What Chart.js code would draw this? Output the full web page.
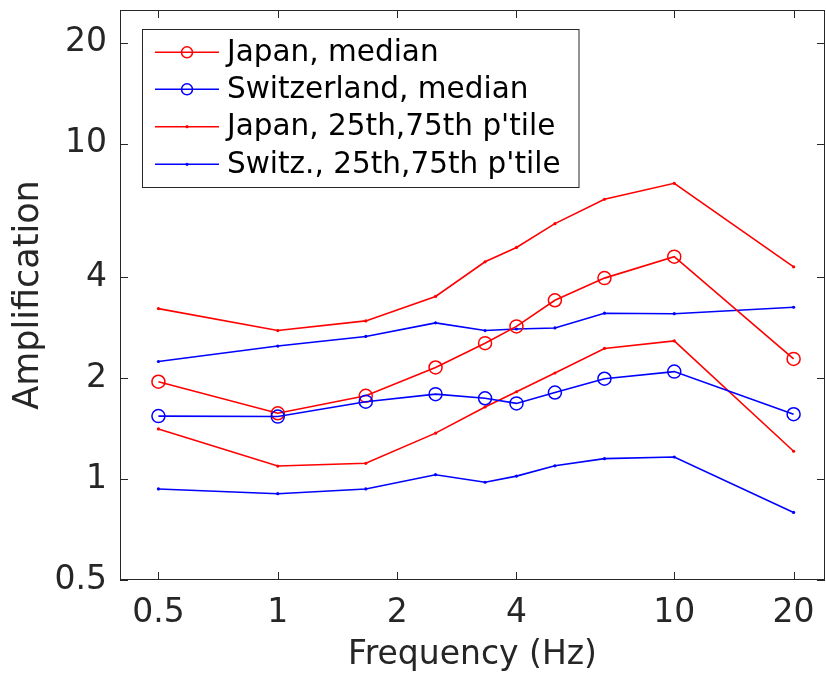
<!DOCTYPE html>
<html>
<head>
<meta charset="utf-8">
<title>Amplification vs frequency</title>
<script src="https://cdn.jsdelivr.net/npm/chart.js@4.4.0/dist/chart.umd.min.js"></script>
<style>
  html, body { margin: 0; padding: 0; background: #fff; }
  #wrap { width: 826px; height: 679px; }
</style>
</head>
<body>
<div id="wrap"><canvas id="ampChart" width="826" height="679"></canvas></div>
<script>
// site amplification: medians and interquartile bounds
const freqs = [0.5, 1, 1.667, 2.5, 3.333, 4, 5, 6.667, 10, 20];
const japanMedian = [1.95, 1.57, 1.77, 2.15, 2.54, 2.85, 3.41, 3.97, 4.60, 2.28];
const switzMedian = [1.54, 1.535, 1.70, 1.79, 1.74, 1.68, 1.81, 1.99, 2.09, 1.56];
const japanP25 = [1.41, 1.093, 1.114, 1.37, 1.64, 1.82, 2.07, 2.45, 2.58, 1.21];
const japanP75 = [3.22, 2.77, 2.96, 3.50, 4.44, 4.90, 5.77, 6.82, 7.61, 4.29];
const switzP25 = [0.934, 0.904, 0.934, 1.03, 0.978, 1.02, 1.095, 1.15, 1.163, 0.795];
const switzP75 = [2.24, 2.49, 2.66, 2.92, 2.77, 2.80, 2.82, 3.12, 3.11, 3.25];

const xTicks = [0.5, 1, 2, 4, 10, 20];
const yTicks = [0.5, 1, 2, 4, 10, 20];

const legendLabels = [
    "Japan, median",
    "Switzerland, median",
    "Japan, 25th,75th p'tile",
    "Switz., 25th,75th p'tile"
];

const RED = "#ff0000";
const BLUE = "#0000ff";
const INK = "#262626";
const FONT = "DejaVu Sans";

const toPoints = ys => ys.map((y, i) => ({ x: freqs[i], y: y }));

function medianSet(label, color, ys) {
    return {
        label: label,
        data: toPoints(ys),
        borderColor: color,
        backgroundColor: "transparent",
        borderWidth: 1.6,
        pointStyle: "circle",
        pointRadius: 6.5,
        pointBorderWidth: 1.5,
        pointBorderColor: color,
        pointBackgroundColor: "transparent",
        tension: 0
    };
}

function pctSet(label, color, ys) {
    return {
        label: label,
        data: toPoints(ys),
        borderColor: color,
        backgroundColor: color,
        borderWidth: 1.6,
        pointStyle: "circle",
        pointRadius: 1.6,
        pointBorderWidth: 0,
        pointBackgroundColor: color,
        tension: 0
    };
}

// axes box with inward ticks on all four sides
const boxPlugin = {
    id: "boxTicks",
    afterDatasetsDraw(chart) {
        const { ctx, chartArea: a, scales } = chart;
        const len = 8;
        ctx.save();
        ctx.strokeStyle = INK;
        ctx.lineWidth = 1;
        ctx.strokeRect(a.left + 0.5, a.top + 0.5, a.right - a.left - 1, a.bottom - a.top - 1);
        ctx.beginPath();
        xTicks.forEach(v => {
            const px = Math.round(scales.x.getPixelForValue(v)) + 0.5;
            ctx.moveTo(px, a.bottom); ctx.lineTo(px, a.bottom - len);
            ctx.moveTo(px, a.top); ctx.lineTo(px, a.top + len);
        });
        yTicks.forEach(v => {
            const py = Math.round(scales.y.getPixelForValue(v)) + 0.5;
            ctx.moveTo(a.left, py); ctx.lineTo(a.left + len, py);
            ctx.moveTo(a.right, py); ctx.lineTo(a.right - len, py);
        });
        ctx.stroke();
        ctx.restore();
    }
};

// legend box in the upper left corner of the axes
const legendPlugin = {
    id: "boxLegend",
    afterDatasetsDraw(chart) {
        const { ctx } = chart;
        const box = { x: 142.5, y: 29.5, w: 436.5, h: 158 };
        const rows = [52.3, 89.3, 126.7, 164.3];
        const styles = [
            { color: RED, circle: true },
            { color: BLUE, circle: true },
            { color: RED, circle: false },
            { color: BLUE, circle: false }
        ];
        ctx.save();
        ctx.fillStyle = "#fff";
        ctx.fillRect(box.x, box.y, box.w, box.h);
        ctx.strokeStyle = INK;
        ctx.lineWidth = 1;
        ctx.strokeRect(box.x, box.y, box.w, box.h);
        ctx.font = "29.5px '" + FONT + "'";
        ctx.textBaseline = "middle";
        ctx.textAlign = "left";
        rows.forEach((y, i) => {
            const st = styles[i];
            ctx.strokeStyle = st.color;
            ctx.lineWidth = 1.6;
            ctx.beginPath();
            ctx.moveTo(155, y); ctx.lineTo(219, y);
            ctx.stroke();
            ctx.beginPath();
            if (st.circle) {
                ctx.lineWidth = 1.5;
                ctx.arc(187, y, 5.5, 0, Math.PI * 2);
                ctx.stroke();
            } else {
                ctx.fillStyle = st.color;
                ctx.arc(187, y, 1.6, 0, Math.PI * 2);
                ctx.fill();
            }
            ctx.fillStyle = "#000";
            ctx.fillText(legendLabels[i], 227, y + 1);
        });
        ctx.restore();
    }
};

const tickFont = { family: FONT, size: 33 };

new Chart(document.getElementById("ampChart"), {
    type: "line",
    data: {
        datasets: [
            medianSet(legendLabels[1], BLUE, switzMedian),
            medianSet(legendLabels[0], RED, japanMedian),
            pctSet("Switz. 25th", BLUE, switzP25),
            pctSet("Switz. 75th", BLUE, switzP75),
            pctSet("Japan 25th", RED, japanP25),
            pctSet("Japan 75th", RED, japanP75)
        ]
    },
    options: {
        responsive: false,
        animation: false,
        devicePixelRatio: 1,
        layout: {
            autoPadding: false,
            padding: { left: 0, right: 1, top: 10, bottom: 0 }
        },
        plugins: {
            legend: { display: false },
            tooltip: { enabled: false }
        },
        scales: {
            x: {
                type: "logarithmic",
                min: 0.4,
                max: 24,
                afterBuildTicks: s => { s.ticks = xTicks.map(v => ({ value: v })); },
                afterFit: s => {
                    s.height = 99;
                    s.paddingLeft = 0;
                    s.paddingRight = 0;
                },
                grid: { display: false, drawTicks: false },
                border: { display: false },
                ticks: {
                    color: INK,
                    font: tickFont,
                    padding: 14,
                    maxRotation: 0,
                    autoSkip: false,
                    callback: v => String(v)
                },
                title: {
                    display: true,
                    text: "Frequency (Hz)",
                    color: INK,
                    font: { family: FONT, size: 33 },
                    padding: { top: 0, bottom: 4 }
                }
            },
            y: {
                type: "logarithmic",
                min: 0.5,
                max: 25,
                afterBuildTicks: s => { s.ticks = yTicks.map(v => ({ value: v })); },
                afterFit: s => {
                    s.width = 120;
                    s.paddingTop = 0;
                    s.paddingBottom = 0;
                },
                grid: { display: false, drawTicks: false },
                border: { display: false },
                ticks: {
                    color: INK,
                    font: tickFont,
                    padding: 13,
                    autoSkip: false,
                    callback: v => String(v)
                },
                title: {
                    display: true,
                    text: "Amplification",
                    color: INK,
                    font: { family: FONT, size: 35 },
                    padding: { top: 8, bottom: 0 }
                }
            }
        }
    },
    plugins: [boxPlugin, legendPlugin]
});
</script>
</body>
</html>
